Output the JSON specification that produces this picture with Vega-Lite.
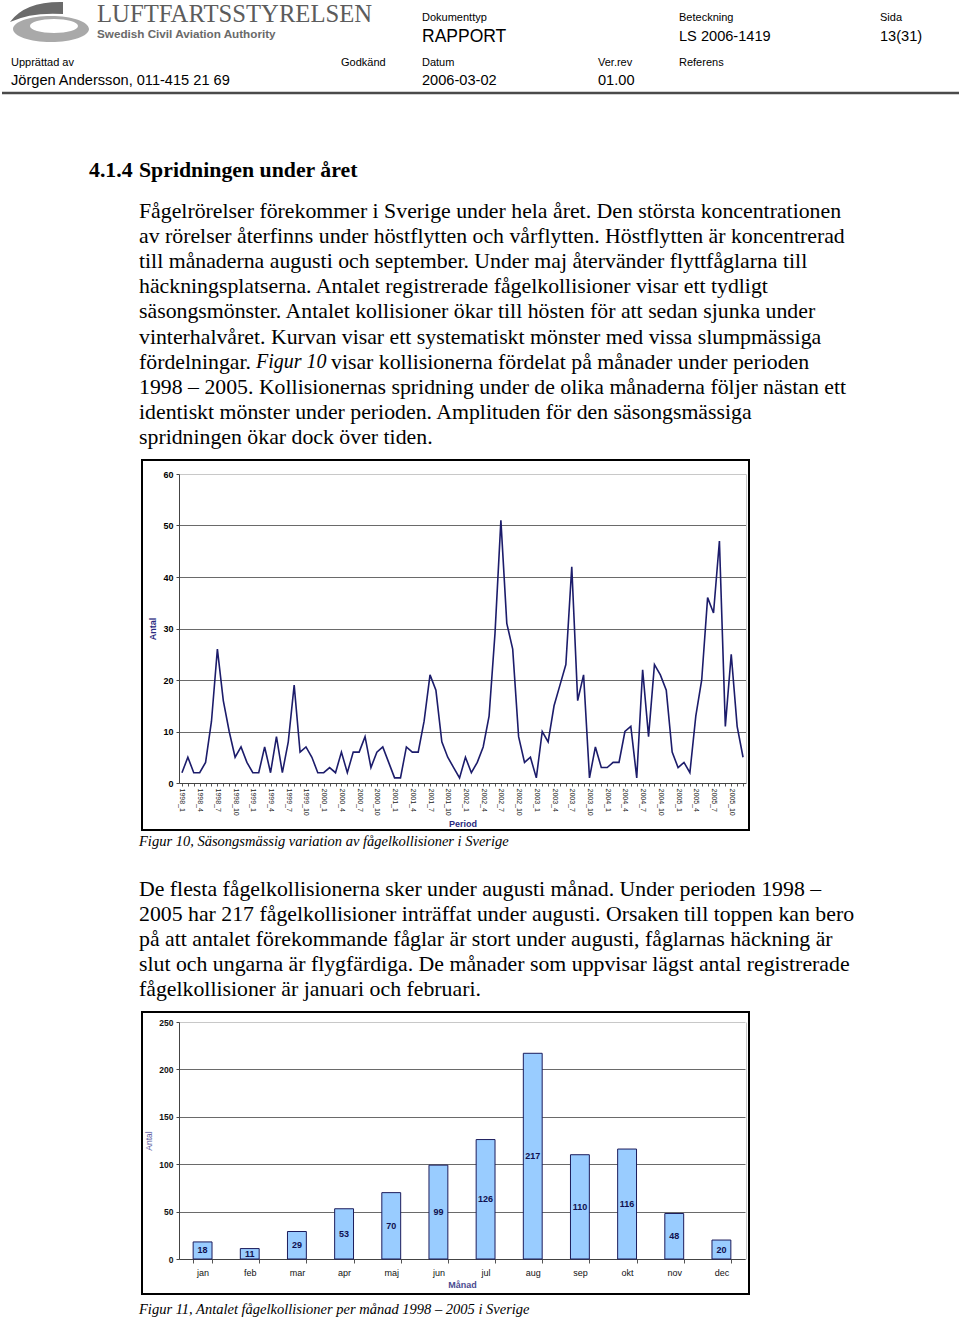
{
  "$schema": "https://vega.github.io/schema/vega-lite/v6.json",
  "background": "white",
  "padding": 0,
  "bounds": "flush",
  "spacing": 0,
  "config": {"view": {"stroke": null}, "font": "Liberation Sans"},
  "vconcat": [
    {
      "width": 607,
      "height": 460,
      "data": {"values": [
        {"txt": "", "part": "logoring", "col": 2, "row": 2},
        {"txt": "", "part": "logoswoosh", "col": 2, "row": 2},
        {"txt": "LUFTFARTSSTYRELSEN", "part": "brand", "col": 4, "row": 0},
        {"txt": "Swedish Civil Aviation Authority", "part": "brandsub", "col": 4, "row": 3},
        {"txt": "Dokumenttyp", "part": "label", "col": 9, "row": 1},
        {"txt": "Beteckning", "part": "label", "col": 11, "row": 1},
        {"txt": "Sida", "part": "label", "col": 12, "row": 1},
        {"txt": "RAPPORT", "part": "doctype", "col": 9, "row": 4},
        {"txt": "LS 2006-1419", "part": "value", "col": 11, "row": 4},
        {"txt": "13(31)", "part": "value", "col": 12, "row": 4},
        {"txt": "Upprättad av", "part": "label", "col": 1, "row": 5},
        {"txt": "Godkänd", "part": "label", "col": 8, "row": 5},
        {"txt": "Datum", "part": "label", "col": 9, "row": 5},
        {"txt": "Ver.rev", "part": "label", "col": 10, "row": 5},
        {"txt": "Referens", "part": "label", "col": 11, "row": 5},
        {"txt": "Jörgen Andersson, 011-415 21 69", "part": "value", "col": 1, "row": 6},
        {"txt": "2006-03-02", "part": "value", "col": 9, "row": 6},
        {"txt": "01.00", "part": "value", "col": 10, "row": 6},
        {"txt": "", "part": "rule", "col": 0, "col2": 13, "row": 7},
        {"txt": "4.1.4", "part": "heading", "col": 3, "row": 8},
        {"txt": "Spridningen under året", "part": "heading", "col": 5, "row": 8},
        {"txt": "Fågelrörelser förekommer i Sverige under hela året. Den största koncentrationen", "part": "body", "col": 5, "row": 9},
        {"txt": "av rörelser återfinns under höstflytten och vårflytten. Höstflytten är koncentrerad", "part": "body", "col": 5, "row": 10},
        {"txt": "till månaderna augusti och september. Under maj återvänder flyttfåglarna till", "part": "body", "col": 5, "row": 11},
        {"txt": "häckningsplatserna. Antalet registrerade fågelkollisioner visar ett tydligt", "part": "body", "col": 5, "row": 12},
        {"txt": "säsongsmönster. Antalet kollisioner ökar till hösten för att sedan sjunka under", "part": "body", "col": 5, "row": 13},
        {"txt": "vinterhalvåret. Kurvan visar ett systematiskt mönster med vissa slumpmässiga", "part": "body", "col": 5, "row": 14},
        {"txt": "fördelningar.", "part": "body", "col": 5, "row": 15},
        {"txt": "Figur 10", "part": "italic", "col": 6, "row": 15},
        {"txt": "visar kollisionerna fördelat på månader under perioden", "part": "body", "col": 7, "row": 15},
        {"txt": "1998 – 2005. Kollisionernas spridning under de olika månaderna följer nästan ett", "part": "body", "col": 5, "row": 16},
        {"txt": "identiskt mönster under perioden.  Amplituden för den säsongsmässiga", "part": "body", "col": 5, "row": 17},
        {"txt": "spridningen ökar dock över tiden.", "part": "body", "col": 5, "row": 18}
      ]},
      "encoding": {
        "x": {"field": "col", "type": "quantitative", "axis": null,
              "scale": {"domain": [0, 1, 2, 3, 4, 5, 6, 7, 8, 9, 10, 11, 12, 13], "range": [-140, -131, -93, -53, -45, -3, 114, 189, 199, 280, 456, 537, 738, 817], "nice": false, "zero": false}},
        "y": {"field": "row", "type": "quantitative", "axis": null,
              "scale": {"domain": [0, 1, 2, 3, 4, 5, 6, 7, 8, 9, 18], "range": [15, 18, 22, 34, 37, 63, 81, 93, 170, 211, 437], "nice": false, "zero": false}}
      },
      "layer": [
        {"transform": [{"filter": "datum.part == 'rule'"}], "mark": {"type": "rule", "color": "#4a4a4a", "strokeWidth": 2.5}, "encoding": {"x2": {"field": "col2"}}},
        {"transform": [{"filter": "datum.part == 'logoring'"}], "mark": {"type": "point", "filled": true, "opacity": 1, "color": "#a9a9a9", "size": 6400,
          "shape": "M-0.9,0.175 A0.95,0.325 0 1,0 1.0,0.175 A0.95,0.325 0 1,0 -0.9,0.175 Z M-0.475,0.1 A0.6,0.175 0 1,1 0.725,0.1 A0.6,0.175 0 1,1 -0.475,0.1 Z"}},
        {"transform": [{"filter": "datum.part == 'logoswoosh'"}], "mark": {"type": "point", "filled": true, "opacity": 1, "color": "#6b6b6b", "size": 6400,
          "shape": "M-0.975,0 Q-0.6,-0.52 0.35,-0.5 L0.35,-0.2 Q-0.45,-0.25 -0.975,0 Z"}},
        {"transform": [{"filter": "datum.part == 'brand'"}], "mark": {"type": "text", "align": "left", "baseline": "middle", "font": "Liberation Serif", "fontSize": 24.7, "color": "#5c5c5c"}, "encoding": {"text": {"field": "txt"}}},
        {"transform": [{"filter": "datum.part == 'brandsub'"}], "mark": {"type": "text", "align": "left", "baseline": "middle", "font": "Liberation Sans", "fontSize": 11.7, "fontWeight": "bold", "color": "#6a6a6a"}, "encoding": {"text": {"field": "txt"}}},
        {"transform": [{"filter": "datum.part == 'label'"}], "mark": {"type": "text", "align": "left", "baseline": "middle", "font": "Liberation Sans", "fontSize": 11, "color": "#000"}, "encoding": {"text": {"field": "txt"}}},
        {"transform": [{"filter": "datum.part == 'value'"}], "mark": {"type": "text", "align": "left", "baseline": "middle", "font": "Liberation Sans", "fontSize": 14.6, "color": "#000"}, "encoding": {"text": {"field": "txt"}}},
        {"transform": [{"filter": "datum.part == 'doctype'"}], "mark": {"type": "text", "align": "left", "baseline": "middle", "font": "Liberation Sans", "fontSize": 17.5, "color": "#000"}, "encoding": {"text": {"field": "txt"}}},
        {"transform": [{"filter": "datum.part == 'heading'"}], "mark": {"type": "text", "align": "left", "baseline": "middle", "font": "Liberation Serif", "fontSize": 21.8, "fontWeight": "bold", "color": "#000"}, "encoding": {"text": {"field": "txt"}}},
        {"transform": [{"filter": "datum.part == 'body'"}], "mark": {"type": "text", "align": "left", "baseline": "middle", "font": "Liberation Serif", "fontSize": 21.8, "color": "#000"}, "encoding": {"text": {"field": "txt"}}},
        {"transform": [{"filter": "datum.part == 'italic'"}], "mark": {"type": "text", "align": "left", "baseline": "middle", "font": "Liberation Serif", "fontSize": 20, "fontStyle": "italic", "color": "#000"}, "encoding": {"text": {"field": "txt"}}}
      ]
    },
    {
      "width": 607,
      "height": 370,
      "view": {"stroke": "#000", "strokeWidth": 2},
      "data": {"values": [
        {"m": "1998_1", "antal": 2, "trend": 4.2}, {"m": "1998_2", "antal": 5}, {"m": "1998_3", "antal": 2}, {"m": "1998_4", "antal": 2}, {"m": "1998_5", "antal": 4}, {"m": "1998_6", "antal": 12}, {"m": "1998_7", "antal": 26}, {"m": "1998_8", "antal": 16}, {"m": "1998_9", "antal": 10}, {"m": "1998_10", "antal": 5}, {"m": "1998_11", "antal": 7}, {"m": "1998_12", "antal": 4},
        {"m": "1999_1", "antal": 2}, {"m": "1999_2", "antal": 2}, {"m": "1999_3", "antal": 7}, {"m": "1999_4", "antal": 2}, {"m": "1999_5", "antal": 9}, {"m": "1999_6", "antal": 2}, {"m": "1999_7", "antal": 8}, {"m": "1999_8", "antal": 19}, {"m": "1999_9", "antal": 6}, {"m": "1999_10", "antal": 7}, {"m": "1999_11", "antal": 5}, {"m": "1999_12", "antal": 2},
        {"m": "2000_1", "antal": 2}, {"m": "2000_2", "antal": 3}, {"m": "2000_3", "antal": 2}, {"m": "2000_4", "antal": 6}, {"m": "2000_5", "antal": 2}, {"m": "2000_6", "antal": 6}, {"m": "2000_7", "antal": 6}, {"m": "2000_8", "antal": 9}, {"m": "2000_9", "antal": 3}, {"m": "2000_10", "antal": 6}, {"m": "2000_11", "antal": 7}, {"m": "2000_12", "antal": 4},
        {"m": "2001_1", "antal": 1}, {"m": "2001_2", "antal": 1}, {"m": "2001_3", "antal": 7}, {"m": "2001_4", "antal": 6}, {"m": "2001_5", "antal": 6}, {"m": "2001_6", "antal": 12}, {"m": "2001_7", "antal": 21}, {"m": "2001_8", "antal": 18}, {"m": "2001_9", "antal": 8}, {"m": "2001_10", "antal": 5}, {"m": "2001_11", "antal": 3}, {"m": "2001_12", "antal": 1},
        {"m": "2002_1", "antal": 5}, {"m": "2002_2", "antal": 2}, {"m": "2002_3", "antal": 4}, {"m": "2002_4", "antal": 7}, {"m": "2002_5", "antal": 13}, {"m": "2002_6", "antal": 29}, {"m": "2002_7", "antal": 51}, {"m": "2002_8", "antal": 31}, {"m": "2002_9", "antal": 26}, {"m": "2002_10", "antal": 9}, {"m": "2002_11", "antal": 4}, {"m": "2002_12", "antal": 5},
        {"m": "2003_1", "antal": 1}, {"m": "2003_2", "antal": 10}, {"m": "2003_3", "antal": 8}, {"m": "2003_4", "antal": 15}, {"m": "2003_5", "antal": 19}, {"m": "2003_6", "antal": 23}, {"m": "2003_7", "antal": 42}, {"m": "2003_8", "antal": 16}, {"m": "2003_9", "antal": 21}, {"m": "2003_10", "antal": 1}, {"m": "2003_11", "antal": 7}, {"m": "2003_12", "antal": 3},
        {"m": "2004_1", "antal": 3}, {"m": "2004_2", "antal": 4}, {"m": "2004_3", "antal": 4}, {"m": "2004_4", "antal": 10}, {"m": "2004_5", "antal": 11}, {"m": "2004_6", "antal": 1}, {"m": "2004_7", "antal": 22}, {"m": "2004_8", "antal": 9}, {"m": "2004_9", "antal": 23}, {"m": "2004_10", "antal": 21}, {"m": "2004_11", "antal": 18}, {"m": "2004_12", "antal": 6},
        {"m": "2005_1", "antal": 3}, {"m": "2005_2", "antal": 4}, {"m": "2005_3", "antal": 2}, {"m": "2005_4", "antal": 13}, {"m": "2005_5", "antal": 20}, {"m": "2005_6", "antal": 36}, {"m": "2005_7", "antal": 33}, {"m": "2005_8", "antal": 47}, {"m": "2005_9", "antal": 11}, {"m": "2005_10", "antal": 25}, {"m": "2005_11", "antal": 11}, {"m": "2005_12", "antal": 5, "trend": 16.7}
      ]},
      "encoding": {
        "x": {"field": "m", "type": "ordinal", "sort": null,
              "scale": {"type": "point", "range": [37, 604], "padding": 0.5},
              "axis": {"orient": "bottom", "offset": -47, "labelExpr": "indexof(['1','4','7','10'], split(datum.value, '_')[1]) >= 0 ? datum.value : ''",
                       "labelAngle": 90, "labelFontSize": 7, "labelColor": "#222", "labelPadding": 2, "labelOverlap": false,
                       "tickSize": 3, "tickColor": "#555", "domainColor": "#444", "grid": false,
                       "title": "Period", "titleFontSize": 9, "titleFontWeight": "bold", "titleColor": "#2a2a80", "titlePadding": 4}}
      },
      "layer": [
        {"mark": {"type": "line", "color": "#1c1c6b", "strokeWidth": 1.6},
         "encoding": {"y": {"field": "antal", "type": "quantitative",
                            "scale": {"domain": [0, 60], "range": [323, 14], "nice": false, "zero": false},
                            "axis": {"orient": "left", "offset": -37, "values": [0, 10, 20, 30, 40, 50, 60],
                                     "labelFontSize": 9, "labelFontWeight": "bold", "labelColor": "#000", "labelPadding": 3,
                                     "tickSize": 3, "tickColor": "#444", "domainColor": "#444",
                                     "grid": true, "gridColor": {"condition": {"test": "datum.value == 60", "value": "#c8c8c8"}, "value": "#6a6a6a"},
                                     "title": "Antal", "titleFontSize": 9, "titleFontWeight": "bold", "titleColor": "#2a2a80", "titlePadding": 5}}}},
        {"mark": {"type": "line", "color": "#e8963c", "strokeWidth": 2},
         "encoding": {"y": {"field": "trend", "type": "quantitative",
                            "axis": {"orient": "right", "offset": -3, "labels": false, "ticks": false, "grid": false, "domain": true, "domainColor": "#c8c8c8", "title": null}}}}
      ],
      "resolve": {"axis": {"y": "independent"}}
    },
    {
      "width": 607,
      "height": 182,
      "data": {"values": [
        {"txt": "Figur 10, Säsongsmässig variation av fågelkollisioner i Sverige", "part": "caption", "col": 0, "row": 0},
        {"txt": "De flesta fågelkollisionerna sker under augusti månad. Under perioden 1998 –", "part": "body", "col": 0, "row": 1},
        {"txt": "2005 har 217 fågelkollisioner inträffat under augusti. Orsaken till toppen kan bero", "part": "body", "col": 0, "row": 2},
        {"txt": "på att antalet förekommande fåglar är stort under augusti, fåglarnas häckning är", "part": "body", "col": 0, "row": 3},
        {"txt": "slut och ungarna är flygfärdiga. De månader som uppvisar lägst antal registrerade", "part": "body", "col": 0, "row": 4},
        {"txt": "fågelkollisioner är januari och februari.", "part": "body", "col": 0, "row": 5}
      ]},
      "encoding": {
        "x": {"field": "col", "type": "quantitative", "axis": null, "scale": {"domain": [0, 1], "range": [-3, 600], "nice": false, "zero": false}},
        "y": {"field": "row", "type": "quantitative", "axis": null, "scale": {"domain": [0, 1, 5], "range": [12, 59, 159], "nice": false, "zero": false}},
        "text": {"field": "txt"}
      },
      "layer": [
        {"transform": [{"filter": "datum.part == 'caption'"}], "mark": {"type": "text", "align": "left", "baseline": "middle", "font": "Liberation Serif", "fontSize": 14.5, "fontStyle": "italic", "color": "#000"}},
        {"transform": [{"filter": "datum.part == 'body'"}], "mark": {"type": "text", "align": "left", "baseline": "middle", "font": "Liberation Serif", "fontSize": 21.8, "color": "#000"}}
      ]
    },
    {
      "width": 607,
      "height": 282,
      "view": {"stroke": "#000", "strokeWidth": 2},
      "data": {"values": [
        {"mnd": "jan", "antal": 18}, {"mnd": "feb", "antal": 11}, {"mnd": "mar", "antal": 29}, {"mnd": "apr", "antal": 53},
        {"mnd": "maj", "antal": 70}, {"mnd": "jun", "antal": 99}, {"mnd": "jul", "antal": 126}, {"mnd": "aug", "antal": 217},
        {"mnd": "sep", "antal": 110}, {"mnd": "okt", "antal": 116}, {"mnd": "nov", "antal": 48}, {"mnd": "dec", "antal": 20}
      ]},
      "encoding": {
        "x": {"field": "mnd", "type": "nominal", "sort": null,
              "scale": {"type": "band", "range": [37, 603], "paddingInner": 0.6, "paddingOuter": 0.3},
              "axis": {"orient": "bottom", "offset": -35, "labelAngle": 0, "labelFontSize": 9, "labelColor": "#111", "labelPadding": 5,
                       "tickSize": 4, "tickBand": "extent", "tickColor": "#555", "domainColor": "#444", "grid": false,
                       "title": "Månad", "titleFontSize": 9, "titleFontWeight": "bold", "titleColor": "#4a4a90", "titlePadding": 3}}
      },
      "layer": [
        {"mark": {"type": "bar", "color": "#99ccff", "stroke": "#1c1c5c", "strokeWidth": 1},
         "encoding": {"y": {"field": "antal", "type": "quantitative",
                            "scale": {"domain": [0, 250], "range": [247, 10], "nice": false, "zero": false},
                            "axis": {"orient": "left", "offset": -37, "values": [0, 50, 100, 150, 200, 250],
                                     "labelFontSize": 8.5, "labelFontWeight": "bold", "labelColor": "#111", "labelPadding": 3,
                                     "tickSize": 3, "tickColor": "#444", "domainColor": "#444",
                                     "grid": true, "gridColor": {"condition": {"test": "datum.value == 250", "value": "#c8c8c8"}, "value": "#6a6a6a"},
                                     "title": "Antal", "titleFontSize": 8.5, "titleFontWeight": "normal", "titleColor": "#5a5aa0", "titlePadding": 5}}}},
        {"mark": {"type": "text", "fontSize": 9, "fontWeight": "bold", "color": "#101050", "baseline": "middle"},
         "encoding": {"y": {"field": "antal", "type": "quantitative", "stack": "zero", "bandPosition": 0.5,
                            "axis": {"orient": "right", "offset": -3, "labels": false, "ticks": false, "grid": false, "domain": true, "domainColor": "#c8c8c8", "title": null}},
                      "text": {"field": "antal", "type": "quantitative"}}}
      ],
      "resolve": {"axis": {"y": "independent"}}
    },
    {
      "width": 607,
      "height": 26,
      "data": {"values": [
        {"txt": "Figur 11, Antalet fågelkollisioner per månad 1998 – 2005 i Sverige", "col": 0, "row": 0}
      ]},
      "mark": {"type": "text", "align": "left", "baseline": "middle", "font": "Liberation Serif", "fontSize": 14.5, "fontStyle": "italic", "color": "#000"},
      "encoding": {
        "x": {"field": "col", "type": "quantitative", "axis": null, "scale": {"domain": [0, 1], "range": [-3, 600], "nice": false, "zero": false}},
        "y": {"field": "row", "type": "quantitative", "axis": null, "scale": {"domain": [0, 1], "range": [16, 40], "nice": false, "zero": false}},
        "text": {"field": "txt"}
      }
    }
  ]
}
